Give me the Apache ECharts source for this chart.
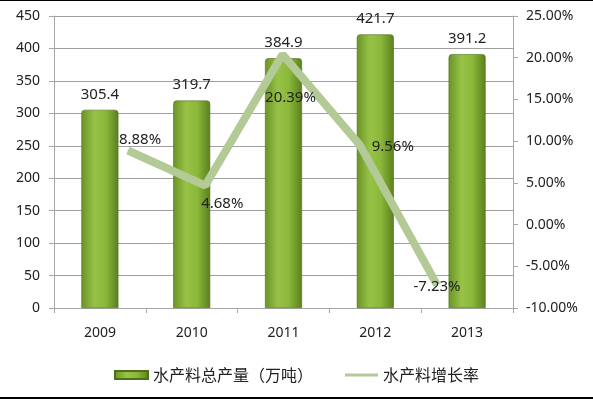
<!DOCTYPE html>
<html>
<head>
<meta charset="utf-8">
<script src="https://cdn.jsdelivr.net/npm/echarts@6/dist/echarts.min.js"></script>
<style>
  body { margin: 0; background: #fff; }
  #wrap { position: relative; width: 593px; height: 399px; }
  #main { width: 593px; height: 399px; }
  .edge { position: absolute; left: 0; width: 593px; background: #000; }
</style>
</head>
<body>
<div id="wrap">
  <div id="main"></div>
  <div class="edge" style="top:0;height:1px"></div>
  <div class="edge" style="bottom:0;height:2px"></div>
</div>
<script>
const years = ['2009', '2010', '2011', '2012', '2013'];
const output = [305.4, 319.7, 384.9, 421.7, 391.2];
const growth = [8.88, 4.68, 20.39, 9.56, -7.23];
// label nudges for the growth line
const growthLabelOffset = [[12, -11], [17, 18], [8, 43], [33, 2], [0, 2]];

const barName = '水产料总产量（万吨）';
const lineName = '水产料增长率';
const numFont = 'Noto Sans';
const axisColor = '#a6a6a6';
const lineColor = '#b3c996';

const myChart = echarts.init(document.getElementById('main'));

const barColor = new echarts.graphic.LinearGradient(0, 0, 1, 0, [
  {offset: 0, color: '#6a9326'},
  {offset: 0.35, color: '#97c247'},
  {offset: 0.65, color: '#8ab83a'},
  {offset: 1, color: '#5b7f1e'}
]);

myChart.setOption({
  animation: false,
  textStyle: {fontFamily: numFont},
  grid: [
    {left: 54, right: 80, top: 16, bottom: 91},
    {left: 128, right: 156, top: 16, bottom: 91}
  ],
  legend: {
    bottom: 11,
    left: 'center',
    itemWidth: 33,
    itemHeight: 8,
    itemGap: 32,
    textStyle: {fontFamily: 'Noto Sans CJK SC', fontSize: 16, color: '#222'},
    data: [
      {name: barName, icon: 'rect'},
      {name: lineName, icon: 'path://M0,0 L33,0 L33,3 L0,3 Z', itemStyle: {color: lineColor}}
    ]
  },
  xAxis: [
    {
      type: 'category',
      gridIndex: 0,
      data: years,
      axisLine: {lineStyle: {color: axisColor}},
      axisTick: {show: true, length: 5, lineStyle: {color: axisColor}},
      axisLabel: {color: '#222', fontSize: 14, margin: 18}
    },
    {
      type: 'category',
      gridIndex: 1,
      data: years,
      boundaryGap: false,
      show: false
    }
  ],
  yAxis: [
    {
      type: 'value',
      gridIndex: 0,
      min: 0,
      max: 450,
      interval: 50,
      axisLine: {show: true, lineStyle: {color: axisColor}},
      axisTick: {show: true, length: 5, lineStyle: {color: axisColor}},
      axisLabel: {color: '#222', fontSize: 14, margin: 14},
      splitLine: {lineStyle: {color: '#a0a0a0'}}
    },
    {
      type: 'value',
      gridIndex: 0,
      position: 'right',
      min: -10,
      max: 25,
      interval: 5,
      axisLine: {show: true, lineStyle: {color: axisColor}},
      axisTick: {show: true, length: 5, lineStyle: {color: axisColor}},
      axisLabel: {color: '#222', fontSize: 14, margin: 13, formatter: v => v.toFixed(2) + '%'},
      splitLine: {show: false}
    },
    {
      type: 'value',
      gridIndex: 1,
      min: -10,
      max: 25,
      interval: 5,
      show: false,
      splitLine: {show: false}
    }
  ],
  series: [
    {
      name: barName,
      type: 'bar',
      xAxisIndex: 0,
      yAxisIndex: 0,
      barWidth: 37,
      data: output,
      itemStyle: {color: barColor, borderColor: '#4f6f18', borderWidth: 0.6, borderRadius: [3, 3, 0, 0]},
      label: {show: true, position: 'top', distance: 8, color: '#222', fontSize: 15}
    },
    {
      name: lineName,
      type: 'line',
      xAxisIndex: 1,
      yAxisIndex: 2,
      z: 3,
      symbol: 'circle',
      symbolSize: 1,
      showSymbol: true,
      lineStyle: {color: lineColor, width: 8},
      itemStyle: {color: lineColor},
      data: growth.map((v, i) => ({
        value: v,
        label: {offset: growthLabelOffset[i]}
      })),
      label: {
        show: true,
        position: 'inside',
        color: '#222',
        fontSize: 15,
        formatter: p => p.value.toFixed(2) + '%'
      }
    }
  ]
});
</script>
</body>
</html>
